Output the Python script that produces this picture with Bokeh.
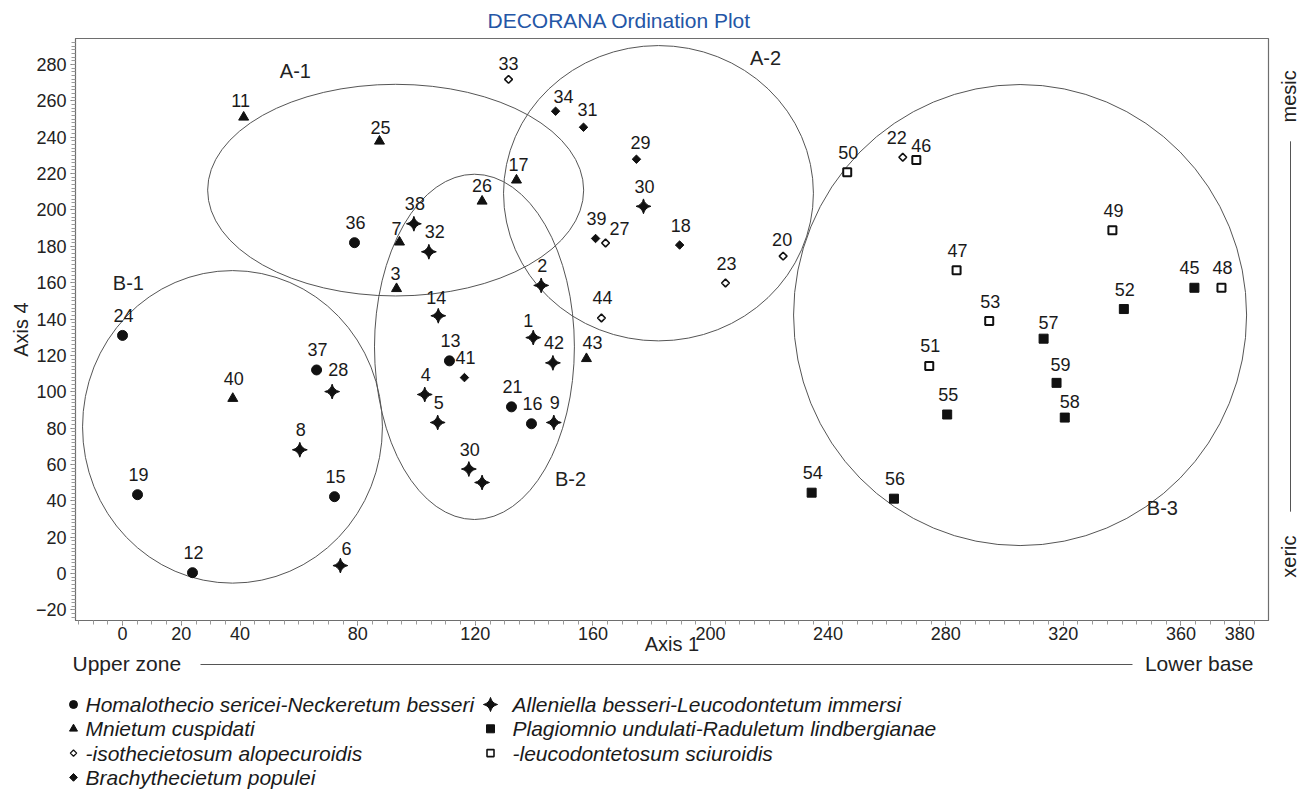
import math
from bokeh.plotting import figure
from bokeh.layouts import row, column
from bokeh.models import ColumnDataSource, Range1d, FixedTicker, Label, Title
from bokeh.core.properties import value
from bokeh.embed import file_html
from bokeh.resources import INLINE

# ---------------- data ----------------
homal_ids = ["24", "19", "12", "36", "37", "15", "13", "21", "16"]
homal_x = [0.0, 5.1, 23.8, 78.9, 66.0, 72.1, 111.2, 132.3, 139.1]
homal_y = [131.0, 43.4, 0.5, 182.0, 112.0, 42.3, 117.0, 91.7, 82.4]

mnie_ids = ["11", "25", "17", "26", "7", "3", "40", "43"]
mnie_x = [41.2, 87.4, 134.0, 122.3, 94.2, 93.2, 37.5, 157.8]
mnie_y = [251.0, 237.8, 216.4, 204.8, 182.3, 156.7, 96.3, 118.2]

iso_ids = ["33", "27", "44", "23", "20", "22"]
iso_x = [131.3, 164.3, 162.9, 205.1, 224.7, 265.4]
iso_y = [271.8, 181.8, 140.6, 159.8, 174.6, 229.0]

brachy_ids = ["34", "31", "29", "39", "18", "41"]
brachy_x = [147.3, 156.8, 174.8, 160.9, 189.5, 116.3]
brachy_y = [254.3, 245.5, 227.9, 184.3, 180.7, 107.8]

allen_ids = ["38", "32", "2", "14", "1", "42", "4", "5", "9", "30", "", "28", "8", "6", "30"]
allen_x = [99.1, 104.2, 142.4, 107.4, 139.7, 146.4, 102.8, 107.2, 146.7, 117.8, 122.3, 71.3, 60.3, 74.1, 177.2]
allen_y = [192.4, 177.0, 158.5, 141.8, 129.8, 115.9, 98.5, 83.1, 83.1, 57.5, 50.1, 100.1, 68.1, 4.4, 202.0]

plag_ids = ["45", "52", "57", "59", "58", "55", "54", "56"]
plag_x = [364.6, 340.6, 313.3, 317.7, 320.5, 280.5, 234.4, 262.4]
plag_y = [157.2, 145.5, 129.2, 104.9, 85.8, 87.5, 44.5, 41.2]

leuco_ids = ["50", "46", "49", "47", "48", "53", "51"]
leuco_x = [246.5, 270.0, 336.7, 283.7, 373.8, 294.8, 274.4]
leuco_y = [220.8, 227.5, 188.9, 166.8, 157.2, 138.9, 114.2]

group_names = ["A-1", "A-2", "B-1", "B-2", "B-3"]
group_cx = [92.9, 182.3, 37.4, 119.7, 305.3]
group_cy = [210.9, 209.2, 80.7, 124.7, 142.2]
group_w = [127.9, 105.4, 102.0, 68.0, 154.1]
group_h = [116.4, 162.5, 171.9, 190.0, 253.7]

x_ticks = [0, 20, 40, 80, 120, 160, 200, 240, 280, 320, 360, 380]
y_ticks = list(range(-20, 281, 20))

legend_names = [
    "Homalothecio sericei-Neckeretum besseri",
    "Mnietum cuspidati",
    "-isothecietosum alopecuroidis",
    "Brachythecietum populei",
    "Alleniella besseri-Leucodontetum immersi",
    "Plagiomnio undulati-Raduletum lindbergianae",
    "-leucodontetosum sciuroidis",
]

title_text = "DECORANA Ordination Plot"
gradient_x = ["Upper zone", "Lower base"]
gradient_y = ["mesic", "xeric"]

# ---------------- styling ----------------
FONT = "Liberation Sans"
INK = "#111111"
GREY = "#6e6e6e"
TXT = "#222222"

DEFAULT_DX, DEFAULT_DY = 1, -20
NUDGE = {"27": (14, -15), "7": (-3, -14), "28": (6, -22), "34": (8, -15), "32": (6, -20),
         "43": (6, -16), "1": (-5, -17), "22": (-6, -20), "46": (5, -14), "6": (6, -17),
         "57": (5, -16), "58": (5, -16), "45": (-5, -20), "59": (4, -18), "26": (0, -16),
         "25": (1, -14), "17": (2, -16), "3": (-1, -15), "11": (-3, -17), "29": (4, -17),
         "31": (4, -18), "33": (0, -16), "14": (-2, -18), "20": (-1, -17)}

MARKERS = [
    dict(marker="circle", size=10, fill_color=INK, line_color=INK),
    dict(marker="triangle", size=10, fill_color=INK, line_color=INK),
    dict(marker="square", size=5.5, angle=math.pi / 4, fill_color="white", line_color=INK, line_width=1.6),
    dict(marker="square", size=6, angle=math.pi / 4, fill_color=INK, line_color=INK),
    dict(marker="square_pin", size=10.5, angle=math.pi / 4, fill_color=INK, line_color=INK),
    dict(marker="square", size=9, fill_color=INK, line_color=INK),
    dict(marker="square", size=8, fill_color="white", line_color=INK, line_width=2),
]
LEG_MARKERS = [
    dict(marker="circle", size=8, fill_color=INK, line_color=INK),
    dict(marker="triangle", size=8, fill_color=INK, line_color=INK),
    dict(marker="square", size=4.5, angle=math.pi / 4, fill_color="white", line_color=INK, line_width=1.3),
    dict(marker="square", size=5.5, angle=math.pi / 4, fill_color=INK, line_color=INK),
    dict(marker="square_pin", size=10, angle=math.pi / 4, fill_color=INK, line_color=INK),
    dict(marker="square", size=8, fill_color=INK, line_color=INK),
    dict(marker="square", size=7, fill_color="white", line_color=INK, line_width=1.6),
]

# frame edges of the main plot, in page pixels
FRAME_L, FRAME_R, FRAME_T, FRAME_B = 75, 1268, 37, 620

MAIN_W, MAIN_H = 1270, 658
p = figure(width=MAIN_W, height=MAIN_H, output_backend="svg", toolbar_location=None, title=None,
           x_range=Range1d(-16.0, 389.8), y_range=Range1d(-25.8, 294.3),
           min_border_left=FRAME_L, min_border_right=MAIN_W - FRAME_R,
           min_border_top=FRAME_T, min_border_bottom=MAIN_H - FRAME_B)
p.grid.visible = False
p.outline_line_color = GREY
p.outline_line_width = 1.2

p.add_layout(Title(text=title_text, align="left", offset=412, text_font=FONT,
                   text_font_size="21px", text_font_style="normal", text_color="#2456a6",
                   standoff=13), "above")

xa = p.xaxis[0]
xa.ticker = FixedTicker(ticks=x_ticks, minor_ticks=list(range(-15, 390, 5)))
xa.axis_label = "Axis 1"
ya = p.yaxis[0]
ya.ticker = FixedTicker(ticks=y_ticks, minor_ticks=list(range(-24, 294, 2)))
ya.axis_label = "Axis 4"
for ax in (xa, ya):
    ax.axis_line_color = GREY
    ax.major_tick_line_color = GREY
    ax.minor_tick_line_color = "#9a9a9a"
    ax.major_tick_in = 0
    ax.minor_tick_in = 0
    ax.major_tick_out = 5
    ax.minor_tick_out = 4
    ax.major_label_text_font = FONT
    ax.major_label_text_font_size = "18px"
    ax.major_label_text_color = TXT
    ax.axis_label_text_font = FONT
    ax.axis_label_text_font_size = "20px"
    ax.axis_label_text_font_style = "normal"
    ax.axis_label_text_color = TXT
xa.major_label_standoff = 1
xa.axis_label_standoff = -10
ya.major_label_standoff = 4
ya.axis_label_standoff = 1

# group ellipses + names
gsrc = ColumnDataSource(dict(x=group_cx, y=group_cy, w=group_w, h=group_h))
p.ellipse(x="x", y="y", width="w", height="h", source=gsrc, fill_color=None,
          line_color="#555555", line_width=1)
g_lab_x = [58.8, 218.7, 2.0, 152.4, 353.7]
g_lab_y = [276.2, 283.4, 159.8, 52.2, 36.2]
for name, lx, ly in zip(group_names, g_lab_x, g_lab_y):
    p.add_layout(Label(x=lx, y=ly, text=name, text_align="center", text_baseline="middle",
                       text_font=FONT, text_font_size="20px", text_color=TXT))

groups = [(homal_ids, homal_x, homal_y), (mnie_ids, mnie_x, mnie_y), (iso_ids, iso_x, iso_y),
          (brachy_ids, brachy_x, brachy_y), (allen_ids, allen_x, allen_y),
          (plag_ids, plag_x, plag_y), (leuco_ids, leuco_x, leuco_y)]
for (ids, xs, ys), mk in zip(groups, MARKERS):
    p.scatter("x", "y", source=ColumnDataSource(dict(x=xs, y=ys, id=ids)), **mk)

all_ids, all_x, all_y = [], [], []
for ids, xs, ys in groups:
    all_ids += ids
    all_x += xs
    all_y += ys
dxs = [NUDGE.get(i, (DEFAULT_DX, DEFAULT_DY))[0] for i in all_ids]
dys = [NUDGE.get(i, (DEFAULT_DX, DEFAULT_DY))[1] for i in all_ids]
lsrc = ColumnDataSource(dict(x=all_x, y=all_y, t=all_ids, dx=dxs, dy=dys))
p.text(x="x", y="y", text="t", source=lsrc, x_offset="dx", y_offset="dy",
       text_font=value(FONT), text_font_size="18px", text_color="#1a1a1a",
       text_align="center", text_baseline="middle")

# ---------- right strip: mesic / xeric (coordinates in page pixels) ----------
# the row layout aligns this strip's frame with the main frame's top/bottom
RIGHT_W = 28
pr = figure(width=RIGHT_W, height=MAIN_H, output_backend="svg", toolbar_location=None, title=None,
            x_range=Range1d(MAIN_W, MAIN_W + RIGHT_W), y_range=Range1d(FRAME_B, FRAME_T),
            x_axis_location=None, y_axis_location=None, min_border=0,
            min_border_top=FRAME_T, min_border_bottom=MAIN_H - FRAME_B)
pr.grid.visible = False
pr.outline_line_color = None
pr.text(x=[1288, 1288], y=[95, 556], text=gradient_y, angle=math.pi / 2,
        text_font=value(FONT), text_font_size="20px", text_color=TXT,
        text_align="center", text_baseline="middle")
pr.segment(x0=[1290], y0=[140], x1=[1290], y1=[511], line_color="#555555", line_width=1)

# ---------- bottom strip: gradient + legend (coordinates in page pixels) ----------
OVERLAP = 10
BOT_TOP = MAIN_H - OVERLAP
BOT_H = 789 - BOT_TOP
pb = figure(width=MAIN_W + RIGHT_W, height=BOT_H, output_backend="svg", toolbar_location=None,
            title=None, x_range=Range1d(0, MAIN_W + RIGHT_W), y_range=Range1d(789, BOT_TOP),
            x_axis_location=None, y_axis_location=None, min_border=0,
            background_fill_color=None, border_fill_color=None,
            margin=(-OVERLAP, 0, 0, 0))
pb.grid.visible = False
pb.outline_line_color = None
pb.text(x=[72], y=[663], text=[gradient_x[0]], text_font=value(FONT), text_font_size="21px",
        text_color=TXT, text_align="left", text_baseline="middle")
pb.text(x=[1253], y=[663], text=[gradient_x[1]], text_font=value(FONT), text_font_size="21px",
        text_color=TXT, text_align="right", text_baseline="middle")
pb.segment(x0=[200], y0=[664], x1=[1132], y1=[664], line_color="#555555", line_width=1)

# legend block: two columns of marker + italic label
LEG_COL = [0, 0, 0, 0, 1, 1, 1]
LEG_ROW = [0, 1, 2, 3, 0, 1, 2]
COL_MARK_X = [73, 490]
COL_TEXT_X = [85, 512]
ROW_Y0, ROW_PITCH = 704, 24.3
for name, c, r_, mk in zip(legend_names, LEG_COL, LEG_ROW, LEG_MARKERS):
    yy = ROW_Y0 + r_ * ROW_PITCH
    pb.scatter(x=[COL_MARK_X[c]], y=[yy], **mk)
    pb.text(x=[COL_TEXT_X[c]], y=[yy], text=[name], text_font=value(FONT),
            text_font_size="21px", text_font_style="italic", text_color="#1a1a1a",
            text_align="left", text_baseline="middle")

layout = column(row(p, pr, spacing=0), pb, spacing=0)
open("out.html", "w").write(file_html(layout, INLINE))
